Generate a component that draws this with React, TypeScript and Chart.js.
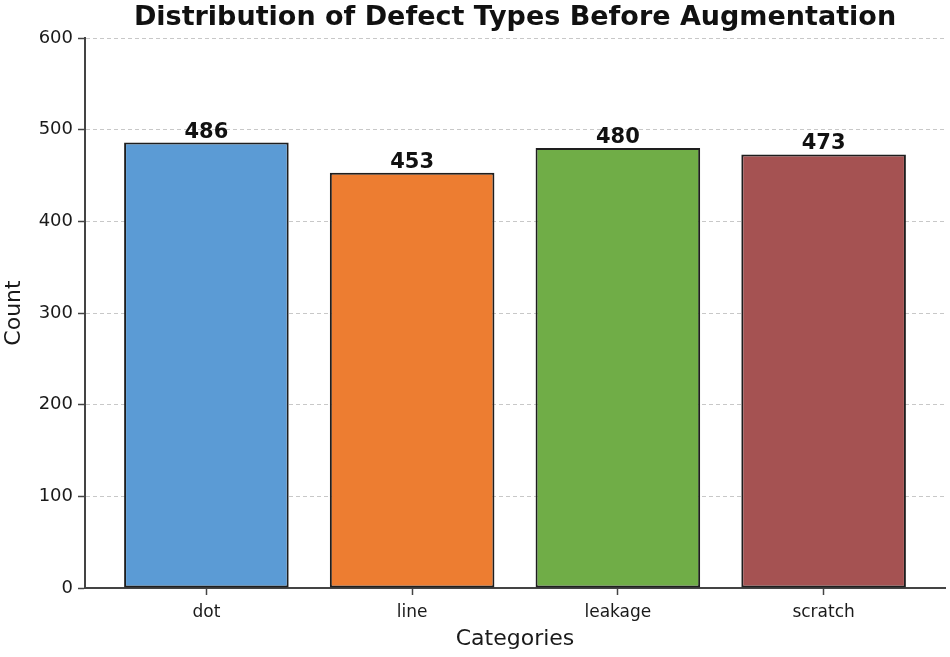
import React, { useEffect, useRef } from "react";
import { Chart, registerables } from "chart.js";

Chart.register(...registerables);

const categories = ["dot", "line", "leakage", "scratch"];
const counts = [486, 453, 480, 473];
const barColors = ["#5b9bd5", "#ed7d31", "#70ad47", "#a55252"];
const yTicks = [0, 100, 200, 300, 400, 500, 600];
const titleText = "Distribution of Defect Types Before Augmentation";
const xTitle = "Categories";
const yTitle = "Count";

const FONT = "'DejaVu Sans', sans-serif";

const overlayPlugin = {
  id: "overlay",
  afterDatasetsDraw(chart: any) {
    const ctx = chart.ctx;
    const area = chart.chartArea;
    ctx.save();
    ctx.fillStyle = "#111";
    ctx.font = `bold 27px ${FONT}`;
    ctx.textAlign = "center";
    ctx.textBaseline = "middle";
    ctx.fillText(titleText, (area.left + area.right) / 2, 18);
    const meta = chart.getDatasetMeta(0);
    ctx.font = `bold 21px ${FONT}`;
    ctx.textBaseline = "alphabetic";
    meta.data.forEach((bar: any, i: number) => {
      ctx.fillText(String(counts[i]), bar.x, bar.y - 5);
    });
    ctx.restore();
  },
};

export default function App() {
  const ref = useRef<HTMLCanvasElement | null>(null);
  useEffect(() => {
    document.body.style.margin = "0";
    if (!ref.current) return;
    const chart = new Chart(ref.current, {
      type: "bar",
      data: {
        datasets: [
          {
            data: counts.map((v, i) => ({ x: i, y: v })),
            backgroundColor: barColors,
            borderColor: "#1e1e1e",
            borderWidth: 2,
            borderSkipped: false,
            barPercentage: 0.8,
            categoryPercentage: 1,
          },
        ],
      },
      options: {
        responsive: false,
        animation: false,
        layout: { padding: { top: 38, right: 5, left: 0, bottom: 0 } },
        plugins: {
          legend: { display: false },
          tooltip: { enabled: false },
        },
        scales: {
          x: {
            type: "linear",
            min: -0.59,
            max: 3.59,
            offset: false,
            afterBuildTicks: (scale: any) => {
              scale.ticks = categories.map((_, i) => ({ value: i }));
            },
            afterFit: (scale: any) => {
              scale.height = 69;
            },
            ticks: {
              callback: (v: any) => categories[v] ?? "",
              font: { family: FONT, size: 17 },
              color: "#1a1a1a",
              padding: 7,
              maxRotation: 0,
              autoSkip: false,
            },
            grid: {
              offset: false,
              drawOnChartArea: false,
              drawTicks: true,
              tickLength: 7,
              tickColor: "#444",
              tickWidth: 1.5,
            },
            border: { display: true, color: "#444", width: 2 },
            title: {
              display: true,
              text: xTitle,
              font: { family: FONT, size: 22 },
              color: "#1a1a1a",
              padding: { top: 4, bottom: 5 },
            },
          },
          y: {
            min: 0,
            max: 600,
            afterBuildTicks: (scale: any) => {
              scale.ticks = yTicks.map((v) => ({ value: v }));
            },
            afterFit: (scale: any) => {
              scale.width = 85;
            },
            ticks: {
              font: { family: FONT, size: 18 },
              color: "#1a1a1a",
              padding: 5,
            },
            grid: {
              color: (c: any) => (c.tick && c.tick.value === 0 ? "rgba(0,0,0,0)" : "#c8c8c8"),
              lineWidth: 1,
              tickBorderDash: [],
              tickColor: "#444",
              tickLength: 7,
              tickWidth: 1.5,
            },
            border: { display: true, color: "#444", width: 2, dash: [4, 3] },
            title: {
              display: true,
              text: yTitle,
              font: { family: FONT, size: 22 },
              color: "#1a1a1a",
              padding: { top: 1, bottom: 4 },
            },
          },
        },
      },
      plugins: [overlayPlugin],
    } as any);
    return () => chart.destroy();
  }, []);
  return (
    <div style={{ width: 950, height: 657 }}>
      <canvas ref={ref} width={950} height={657} />
    </div>
  );
}
